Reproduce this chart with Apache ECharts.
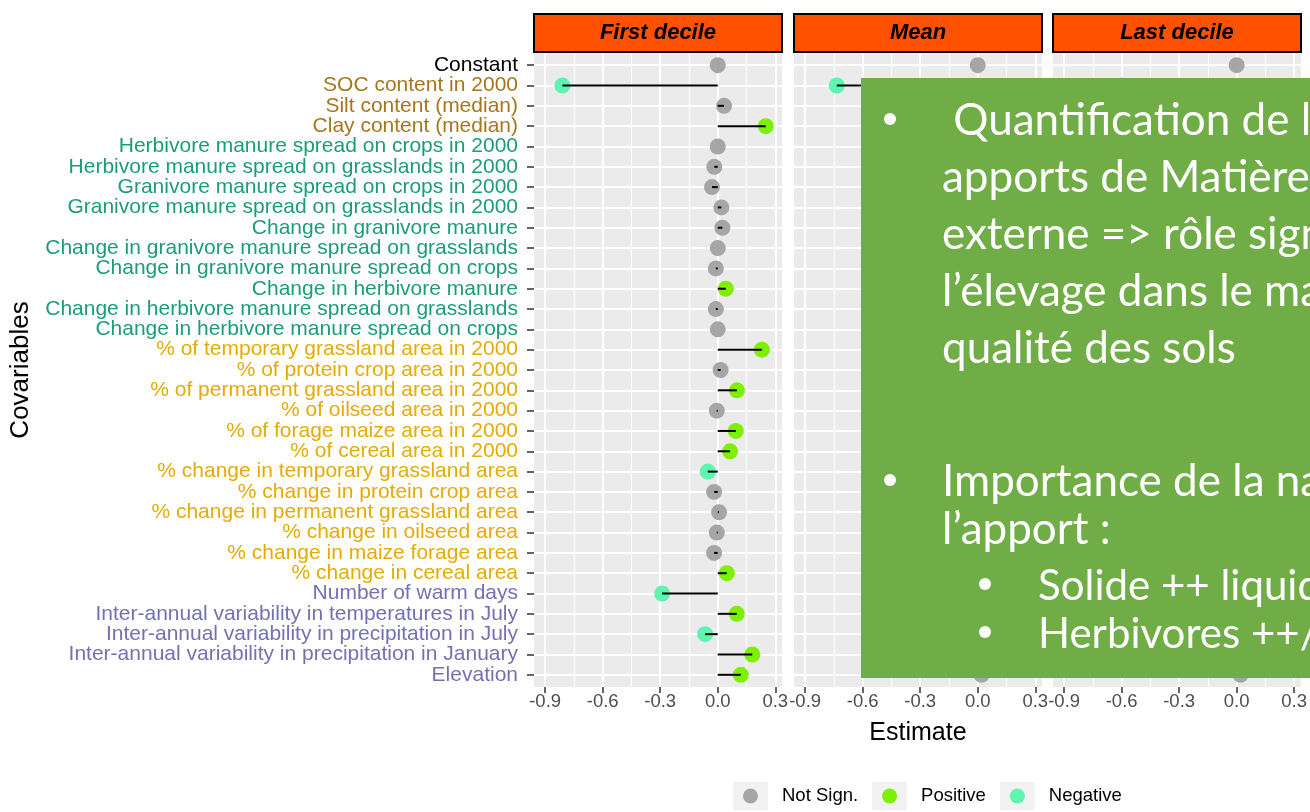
<!DOCTYPE html>
<html>
<head>
<meta charset="utf-8">
<script src="https://cdn.jsdelivr.net/npm/echarts@6/dist/echarts.min.js"></script>
<style>
html,body{margin:0;padding:0;background:#fff;overflow:hidden;}
#chart{width:1310px;height:812px;}
</style>
</head>
<body>
<div id="chart"></div>
<script>
const categories = [
  'Constant',
  'SOC content in 2000',
  'Silt content (median)',
  'Clay content (median)',
  'Herbivore manure spread on crops in 2000',
  'Herbivore manure spread on grasslands in 2000',
  'Granivore manure spread on crops in 2000',
  'Granivore manure spread on grasslands in 2000',
  'Change in granivore manure',
  'Change in granivore manure spread on grasslands',
  'Change in granivore manure spread on crops',
  'Change in herbivore manure',
  'Change in herbivore manure spread on grasslands',
  'Change in herbivore manure spread on crops',
  '% of temporary grassland area in 2000',
  '% of protein crop area in 2000',
  '% of permanent grassland area in 2000',
  '% of oilseed area in 2000',
  '% of forage maize area in 2000',
  '% of cereal area in 2000',
  '% change in temporary grassland area',
  '% change in protein crop area',
  '% change in permanent grassland area',
  '% change in oilseed area',
  '% change in maize forage area',
  '% change in cereal area',
  'Number of warm days',
  'Inter-annual variability in temperatures in July',
  'Inter-annual variability in precipitation in July',
  'Inter-annual variability in precipitation in January',
  'Elevation'
];
// label colour group of each covariable
const labelGroup = ['k','soil','soil','soil',
  'manure','manure','manure','manure','manure','manure','manure','manure','manure','manure',
  'land','land','land','land','land','land','land','land','land','land','land','land',
  'clim','clim','clim','clim','clim'];
const facets = ['First decile','Mean','Last decile'];
// estimates per facet; significance: 0 = not sign., 1 = positive, -1 = negative
const firstDecile = [0.0,-0.81,0.033,0.25,0.0,-0.018,-0.03,0.019,0.024,0.0,-0.01,0.042,-0.01,0.0,0.23,0.015,0.10,-0.005,0.094,0.064,-0.052,-0.019,0.007,-0.005,-0.019,0.047,-0.29,0.099,-0.066,0.18,0.12];
const firstSig    = [0,-1,0,1,0,0,0,0,0,0,0,1,0,0,1,0,1,0,1,1,-1,0,0,0,0,1,-1,1,-1,1,1];
const meanValues  = [0.0,-0.735,0.02,0.2,0.0,-0.01,-0.02,0.01,0.02,0.0,-0.01,0.03,-0.01,0.0,0.18,0.01,0.08,0.0,0.07,0.05,-0.04,-0.01,0.0,0.0,-0.01,0.03,-0.2,0.07,-0.04,0.12,0.02];
const meanSig     = [0,-1,0,1,0,0,0,0,0,0,0,1,0,0,1,0,1,0,1,1,-1,0,0,0,0,1,-1,1,-1,1,0];
const lastDecile  = [0.0,-0.6,0.01,0.15,0.0,-0.01,-0.01,0.01,0.01,0.0,0.0,0.02,0.0,0.0,0.12,0.01,0.05,0.0,0.05,0.03,-0.02,0.0,0.0,0.0,0.0,0.02,-0.12,0.04,-0.02,0.08,0.02];
const lastSig     = [0,-1,0,1,0,0,0,0,0,0,0,0,0,0,1,0,1,0,1,0,0,0,0,0,0,0,-1,1,0,1,0];
const xTicks = [-0.9,-0.6,-0.3,0.0,0.3];
const xMinor = [-0.75,-0.45,-0.15,0.15];
const sigNames = {'0':'Not Sign.','1':'Positive','-1':'Negative'};
const sigColors = {'0':'#A6A6A6','1':'#7CF000','-1':'#5EF5B0'};

const groupColors = {k:'#000000', soil:'#A6761D', manure:'#1B9E77', land:'#E6AB02', clim:'#7570B3'};
const facetValues = [firstDecile, meanValues, lastDecile];
const facetSig = [firstSig, meanSig, lastSig];

const gridLefts = [534, 794, 1053];
const gridW = 248, gridTop = 53, gridH = 634;
const rowIdx = categories.map((c,i)=>i);
const evenIdx = rowIdx.filter(i => i % 2 === 0);
const oddIdx = rowIdx.filter(i => i % 2 === 1);
const richStyles = Object.fromEntries(Object.entries(groupColors).map(([g,c]) => [g, {color:c, fontSize:21, fontFamily:'Liberation Sans'}]));
const yMin = -0.6, yMax = categories.length - 1 + 0.6;

function labelAxis(k, labelValues, withTicks, withName){
  return {type:'value', gridIndex:k, inverse:true, min:yMin, max:yMax, position:'left', offset:0,
    name: withName ? 'Covariables' : '', nameLocation:'middle', nameGap:500, nameRotate:90,
    nameTextStyle:{fontSize:26, color:'#000', fontFamily:'Liberation Sans'},
    axisLine:{show:false, onZero:false},
    axisTick:{show: withTicks && k === 0, length:7, customValues: withTicks ? rowIdx : labelValues, lineStyle:{color:'#333', width:1.5}},
    axisLabel:{show: k === 0, customValues: labelValues, margin:16, fontFamily:'Liberation Sans', fontSize:21,
      showMinLabel:true, showMaxLabel:true, hideOverlap:false,
      formatter: v => '{' + labelGroup[v] + '|' + categories[v] + '}', rich: richStyles},
    splitLine:{show: withTicks, lineStyle:{color:'#FFFFFF', width:2}}};
}

const grids = [], xAxes = [], yAxes = [], series = [], graphics = [];
const yIndexOf = [];
facets.forEach((f, k) => {
  grids.push({left: gridLefts[k], top: gridTop, width: gridW, height: gridH, show: true,
    backgroundColor: '#EBEBEB', borderWidth: 0, containLabel: false});
  // minor grid axis
  xAxes.push({type:'value', gridIndex:k, min:-0.958, max:0.335, position:'bottom',
    axisLine:{show:false, onZero:false}, axisLabel:{show:false},
    axisTick:{show:false, customValues: xMinor},
    splitLine:{show:true, lineStyle:{color:'#FFFFFF', width:1}}, z:0});
  // major axis
  xAxes.push({type:'value', gridIndex:k, min:-0.958, max:0.335, position:'bottom',
    name: k === 1 ? 'Estimate' : '', nameLocation:'middle', nameGap:34,
    nameTextStyle:{fontSize:25, color:'#000', fontFamily:'Liberation Sans'},
    axisLine:{show:false, onZero:false},
    axisTick:{show:true, length:6, customValues: xTicks, lineStyle:{color:'#333', width:1.5}},
    axisLabel:{show:true, customValues: xTicks, margin:5, fontSize:18.5, color:'#4D4D4D',
      showMinLabel:true, showMaxLabel:true,
      fontFamily:'Liberation Sans', formatter: v => v.toFixed(1)},
    splitLine:{show:true, lineStyle:{color:'#FFFFFF', width:2}}, z:1});
  yIndexOf.push(yAxes.length);
  yAxes.push(labelAxis(k, evenIdx, true, k === 0));
  if (k === 0) yAxes.push(labelAxis(k, oddIdx, false, false));

  const vals = facetValues[k], sig = facetSig[k];
  ['0','1','-1'].forEach(s => {
    series.push({type:'scatter', name: sigNames[s], xAxisIndex: 2*k+1, yAxisIndex: yIndexOf[k],
      symbolSize: 16, itemStyle:{color: sigColors[s], opacity:1},
      data: vals.map((v,i) => String(sig[i]) === s ? [v, i] : null).filter(d => d), z:2, silent:true});
  });
  series.push({type:'custom', name:'seg'+k, xAxisIndex: 2*k+1, yAxisIndex: yIndexOf[k], z:3, silent:true,
    data: vals.map((v,i)=>[v,i]),
    renderItem: (params, api) => {
      const p0 = api.coord([0, api.value(1)]);
      const p1 = api.coord([api.value(0), api.value(1)]);
      return {type:'line', shape:{x1:p0[0], y1:p0[1], x2:p1[0], y2:p1[1]},
        style:{stroke:'#000', lineWidth:2}};
    }});
  // strip
  graphics.push({type:'rect', shape:{x: gridLefts[k], y:14, width: gridW, height:38},
    style:{fill:'#FF5100', stroke:'#000', lineWidth:2}, z:10});
  graphics.push({type:'text', x: gridLefts[k] + gridW/2, y: 33,
    style:{text: f, font:'italic bold 22px "Liberation Sans"', fill:'#000',
      textAlign:'center', textVerticalAlign:'middle', align:'center', verticalAlign:'middle'}, z:11});
});

// overlay text box
const boxLines = [
  {b:true,  x:942, y:121, t:' Quantification de l\u2019effet des'},
  {b:false, x:942, y:178, t:'apports de Mati\u00e8re Organique'},
  {b:false, x:942, y:235, t:'externe => r\u00f4le significatif de'},
  {b:false, x:942, y:292, t:'l\u2019\u00e9levage dans le maintien de la'},
  {b:false, x:942, y:349, t:'qualit\u00e9 des sols'},
  {b:true,  x:942, y:482, t:'Importance de la nature de'},
  {b:false, x:942, y:530, t:'l\u2019apport :'},
  {b:true,  x:1038, y:586, t:'Solide ++ liquide', sub:true},
  {b:true,  x:1038, y:634, t:'Herbivores ++/granivores', sub:true}
];
graphics.push({type:'rect', shape:{x:861, y:78, width:460, height:600}, style:{fill:'#70AD47'}, z:50});
boxLines.forEach(l => {
  graphics.push({type:'text', x:l.x, y:l.y, z:51,
    style:{text:l.t, font: (l.sub ? '42px' : '44px') + ' Lato', fill:'#fff', textAlign:'left', textVerticalAlign:'middle', align:'left', verticalAlign:'middle'}});
  if (l.b) {
    graphics.push({type:'circle', shape:{cx: l.sub ? 985 : 890, cy: l.y - 2, r:6}, style:{fill:'#fff'}, z:51});
  }
});

function keyIcon(color){
  const svg = '<svg xmlns="http://www.w3.org/2000/svg" width="35" height="28" viewBox="0 0 35 28">' +
    '<rect x="0" y="0" width="35" height="28" fill="#F2F2F2"/>' +
    '<circle cx="17.5" cy="14" r="7.5" fill="' + color + '"/></svg>';
  return 'image://data:image/svg+xml;charset=utf-8,' + encodeURIComponent(svg);
}

const chart = echarts.init(document.getElementById('chart'), null, {renderer:'canvas'});
chart.setOption({
  animation:false,
  backgroundColor:'#FFFFFF',
  grid: grids, xAxis: xAxes, yAxis: yAxes, series: series,
  legend:{left:733, top:782, padding:0, itemWidth:35, itemHeight:28, itemGap:14, selectedMode:false,
    data:[{name:'Not Sign.', icon:keyIcon(sigColors['0'])},
          {name:'Positive', icon:keyIcon(sigColors['1'])},
          {name:'Negative', icon:keyIcon(sigColors['-1'])}],
    textStyle:{fontSize:18.5, color:'#000', fontFamily:'Liberation Sans', padding:[0,0,0,9]}},
  graphic: graphics
});
</script>
</body>
</html>
